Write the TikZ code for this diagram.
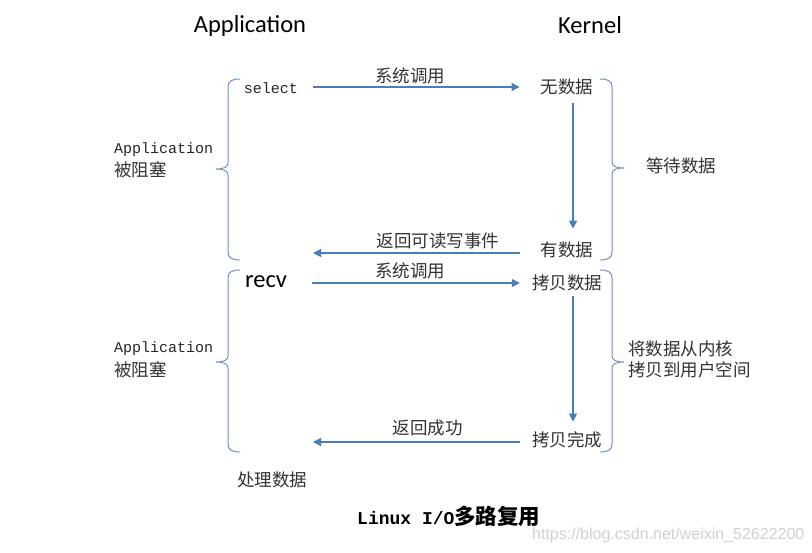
\documentclass[tikz,border=0pt]{standalone}
\usepackage{fontspec}
\setmainfont{Liberation Serif}
\newfontfamily\cjk{Noto Sans CJK SC}
\newfontfamily\monof{Liberation Mono}
\newfontfamily\hdf{Carlito}
\newfontfamily\wmf{Liberation Sans}
\usetikzlibrary{arrows.meta}
\definecolor{arrblue}{HTML}{4A7EBB}
\definecolor{brblue}{HTML}{6F94C6}
\definecolor{txt}{HTML}{333333}
\tikzset{
  cn/.style={font=\cjk\fontsize{17.5}{20}\selectfont, text=txt, inner sep=0pt},
  mn/.style={font=\monof\fontsize{15}{18}\selectfont, text=black!85, inner sep=0pt},
  hd/.style={font=\hdf\fontsize{24.5}{28}\selectfont, text=black, inner sep=0pt},
  arr/.style={draw=arrblue, line width=1.2pt, -{Triangle[length=8pt,width=8pt]}},
  brc/.style={draw=brblue, line width=1pt}
}
\begin{document}
\begin{tikzpicture}[x=1pt,y=-1pt]
\useasboundingbox[fill=white] (0,0) rectangle (812,553);
% headers
\node[hd] (happ) at (250,26) {Application};
\node[hd] (hker) at (590,25) {Kernel};
% top block
\node[mn] (sel) at (271,88) {select};
\node[cn] (nd) at (567,87) {无数据};
\node[cn] (yd) at (567,250) {有数据};
\node[cn] (wait) at (681,166) {等待数据};
\node[mn, anchor=west] (ap1) at (114,150) {Application};
\node[cn, anchor=west] (bl1) at (114,170) {被阻塞};
\coordinate (r1) at (313,253);
% bottom block
\node[hd, anchor=west] (recv) at (245,281.5) {recv};
\node[cn] (kb) at (567,283) {拷贝数据};
\node[cn] (kw) at (567,440) {拷贝完成};
\node[cn, anchor=west] (cp1) at (628,349) {将数据从内核};
\node[cn, anchor=west] (cp2) at (628,370) {拷贝到用户空间};
\node[mn, anchor=west] (ap2) at (114,349) {Application};
\node[cn, anchor=west] (bl2) at (114,370) {被阻塞};
\node[cn] (proc) at (272,480) {处理数据};
\coordinate (r2) at (313,442);
% caption and watermark
\node[anchor=west, inner sep=0pt, text=black] (cap) at (357,516)
  {{\monof\bfseries\fontsize{18}{20}\selectfont Linux I/O}{\cjk\bfseries\fontsize{21.5}{22}\selectfont 多路复用}};
\node[anchor=west, inner sep=0pt, text=black!18, font=\wmf\fontsize{16}{18}\selectfont] (wm) at (532,535) {https://blog.csdn.net/weixin\_52622200};
% arrows
\draw[arr, shorten <=15pt, shorten >=21pt] (sel.east |- nd.west) -- node[cn, above=2pt, pos=0.463] (l1) {系统调用} (nd.west);
\draw[arr, shorten >=13pt, shorten <=8pt] ([xshift=6pt]nd.south) -- ([xshift=6pt]yd.north);
\draw[arr, shorten <=21pt] (yd.west |- r1) -- node[cn, above=3pt, pos=0.451] (l2) {返回可读写事件} (r1);
\draw[arr, shorten <=25pt, shorten >=12pt] (recv.east |- kb.west) -- node[cn, above=3pt, pos=0.502] (l3) {系统调用} (kb.west);
\draw[arr, shorten <=5pt, shorten >=10pt] ([xshift=6pt]kb.south) -- ([xshift=6pt]kw.north);
\draw[arr, shorten <=12pt] (kw.west |- r2) -- node[cn, above=5pt, pos=0.475] (l4) {返回成功} (r2);
% left braces
\draw[brc] (240,79) .. controls (232,79) and (228,81) .. (228,87) -- (228,163) .. controls (228,167) and (224,169) .. (216,169) .. controls (224,169) and (228,171) .. (228,175) -- (228,252) .. controls (228,258) and (232,260) .. (240,260);
\draw[brc] (240,270) .. controls (232,270) and (228,272) .. (228,278) -- (228,356) .. controls (228,360) and (224,362) .. (216,362) .. controls (224,362) and (228,364) .. (228,368) -- (228,444) .. controls (228,450) and (232,452) .. (240,452);
% right braces
\draw[brc] (600,79) .. controls (608,79) and (612,81) .. (612,87) -- (612,162) .. controls (612,166) and (616,168) .. (624,168) .. controls (616,168) and (612,170) .. (612,174) -- (612,252) .. controls (612,258) and (608,260) .. (600,260);
\draw[brc] (600,270) .. controls (608,270) and (612,272) .. (612,278) -- (612,356) .. controls (612,360) and (616,362) .. (624,362) .. controls (616,362) and (612,364) .. (612,368) -- (612,444) .. controls (612,450) and (608,452) .. (600,452);
\end{tikzpicture}
\end{document}
